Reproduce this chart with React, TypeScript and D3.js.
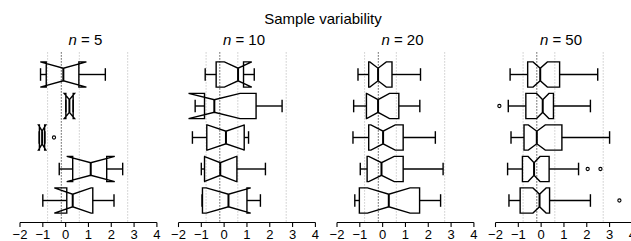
import * as d3 from 'd3';

// rows are listed top to bottom within each panel
const sampleSizes = [5, 10, 20, 50];

const lowerWhisker = [
  [-1.1, 0.01, -1.16, -0.28, -1.0],
  [-0.83, -1.27, -1.39, -1.0, -0.97],
  [-1.08, -1.27, -1.3, -0.98, -1.22],
  [-1.36, -1.44, -1.32, -1.47, -1.41],
];
const lowerHinge = [
  [-0.85, 0.01, -1.15, 0.31, 0.05],
  [-0.35, -0.86, -0.76, -0.86, -0.95],
  [-0.61, -0.71, -0.61, -0.68, -1.02],
  [-0.59, -0.67, -0.75, -0.82, -0.92],
];
const medians = [
  [-0.1, 0.165, -1.03, 1.1, 0.31],
  [0.61, -0.43, 0.08, -0.17, 0.19],
  [-0.2, -0.2, 0.02, -0.05, 0.27],
  [-0.04, 0.07, -0.19, -0.31, -0.07],
];
const upperHinge = [
  [0.58, 0.33, -0.92, 1.8, 1.19],
  [0.85, 1.4, 0.88, 0.56, 1.0],
  [0.41, 0.71, 0.9, 0.9, 1.62],
  [0.81, 0.54, 0.91, 0.35, 0.37],
];
const upperWhisker = [
  [1.74, 0.33, -0.91, 2.5, 2.12],
  [1.32, 2.54, 1.07, 1.81, 1.59],
  [1.66, 1.63, 2.31, 2.65, 2.54],
  [2.48, 2.16, 3.0, 1.64, 2.16],
];
const outliers = [
  [[], [], [-0.51], [], []],
  [[], [], [], [], []],
  [[], [], [], [], []],
  [[], [-1.83], [], [2.04, 2.6], [3.43]],
];

// population reference lines
const quartileLines = [-0.79, 0.6, 2.72];
const populationMedian = -0.19;
const tickValues = [-2, -1, 0, 1, 2, 3, 4];

const W = 631;
const H = 241;
const panelLeft = 20;
const panelStep = 158.5;
const panelWidth = 136.9;
const font = '"Liberation Sans", Arial, Helvetica, sans-serif';

const y = d3.scaleLinear().domain([0.5, 5.5]).range([58.75, 216.25]);
const plotTop = y(0.3);
const plotBottom = y(5.7);
const halfBox = y(0.4) - y(0);

function Panel({ p }: { p: number }) {
  const x0 = panelLeft + p * panelStep;
  const x = d3.scaleLinear().domain([-2, 4]).range([x0, x0 + panelWidth]);
  const n = sampleSizes[p];

  return (
    <g>
      {quartileLines.map((v, i) => (
        <line key={i} x1={x(v)} x2={x(v)} y1={plotTop} y2={plotBottom}
          stroke="#b0b0b0" strokeWidth={1} strokeDasharray="1 2" />
      ))}
      <line x1={x(populationMedian)} x2={x(populationMedian)} y1={plotTop} y2={plotBottom}
        stroke="#000" strokeWidth={1} strokeDasharray="1 2" />

      {medians[p].map((med, i) => {
        const c = y(i + 1);
        const q1 = lowerHinge[p][i];
        const q3 = upperHinge[p][i];
        const half = (1.58 * (q3 - q1)) / Math.sqrt(n);
        const c1 = med - half;
        const c2 = med + half;
        const w = halfBox;
        const pts: [number, number][] = [
          [x(q1), c - w], [x(q1), c + w], [x(c1), c + w], [x(med), c + w / 2],
          [x(c2), c + w], [x(q3), c + w], [x(q3), c - w], [x(c2), c - w],
          [x(med), c - w / 2], [x(c1), c - w],
        ];
        const lo = lowerWhisker[p][i];
        const hi = upperWhisker[p][i];
        return (
          <g key={i} stroke="#000" fill="none">
            <line x1={x(lo)} x2={x(q1)} y1={c} y2={c} strokeWidth={1.4} />
            <line x1={x(q3)} x2={x(hi)} y1={c} y2={c} strokeWidth={1.4} />
            <line x1={x(lo)} x2={x(lo)} y1={c - w / 2} y2={c + w / 2} strokeWidth={1.4} />
            <line x1={x(hi)} x2={x(hi)} y1={c - w / 2} y2={c + w / 2} strokeWidth={1.4} />
            <path d={d3.line()(pts) + 'Z'} strokeWidth={1.4} strokeLinejoin="miter" />
            <line x1={x(med)} x2={x(med)} y1={c - w / 2} y2={c + w / 2} strokeWidth={2} />
            {outliers[p][i].map((o, k) => (
              <circle key={k} cx={x(o)} cy={c} r={1.6} strokeWidth={1.1} />
            ))}
          </g>
        );
      })}

      <line x1={x(-2)} x2={x(4)} y1={plotBottom} y2={plotBottom} stroke="#000" strokeWidth={1.1} />
      {tickValues.map((t) => (
        <g key={t}>
          <line x1={x(t)} x2={x(t)} y1={plotBottom} y2={plotBottom + 4.5} stroke="#000" strokeWidth={1.1} />
          <text x={x(t)} y={239} textAnchor="middle" fontSize={13} fontFamily={font}>
            {t < 0 ? '\u2212' + Math.abs(t) : t}
          </text>
        </g>
      ))}

      <text x={(x(-2) + x(4)) / 2 - 3} y={45} textAnchor="middle" fontSize={15} fontFamily={font}>
        <tspan fontStyle="italic">n</tspan> = {n}
      </text>
    </g>
  );
}

export default function App() {
  return (
    <svg width={W} height={H} style={{ position: 'absolute', left: 0, top: 0, background: '#fff' }}>
      <rect width={W} height={H} fill="#fff" />
      <text x={323} y={24} textAnchor="middle" fontSize={15} fontFamily={font}>
        Sample variability
      </text>
      {sampleSizes.map((_, p) => (
        <Panel key={p} p={p} />
      ))}
    </svg>
  );
}
